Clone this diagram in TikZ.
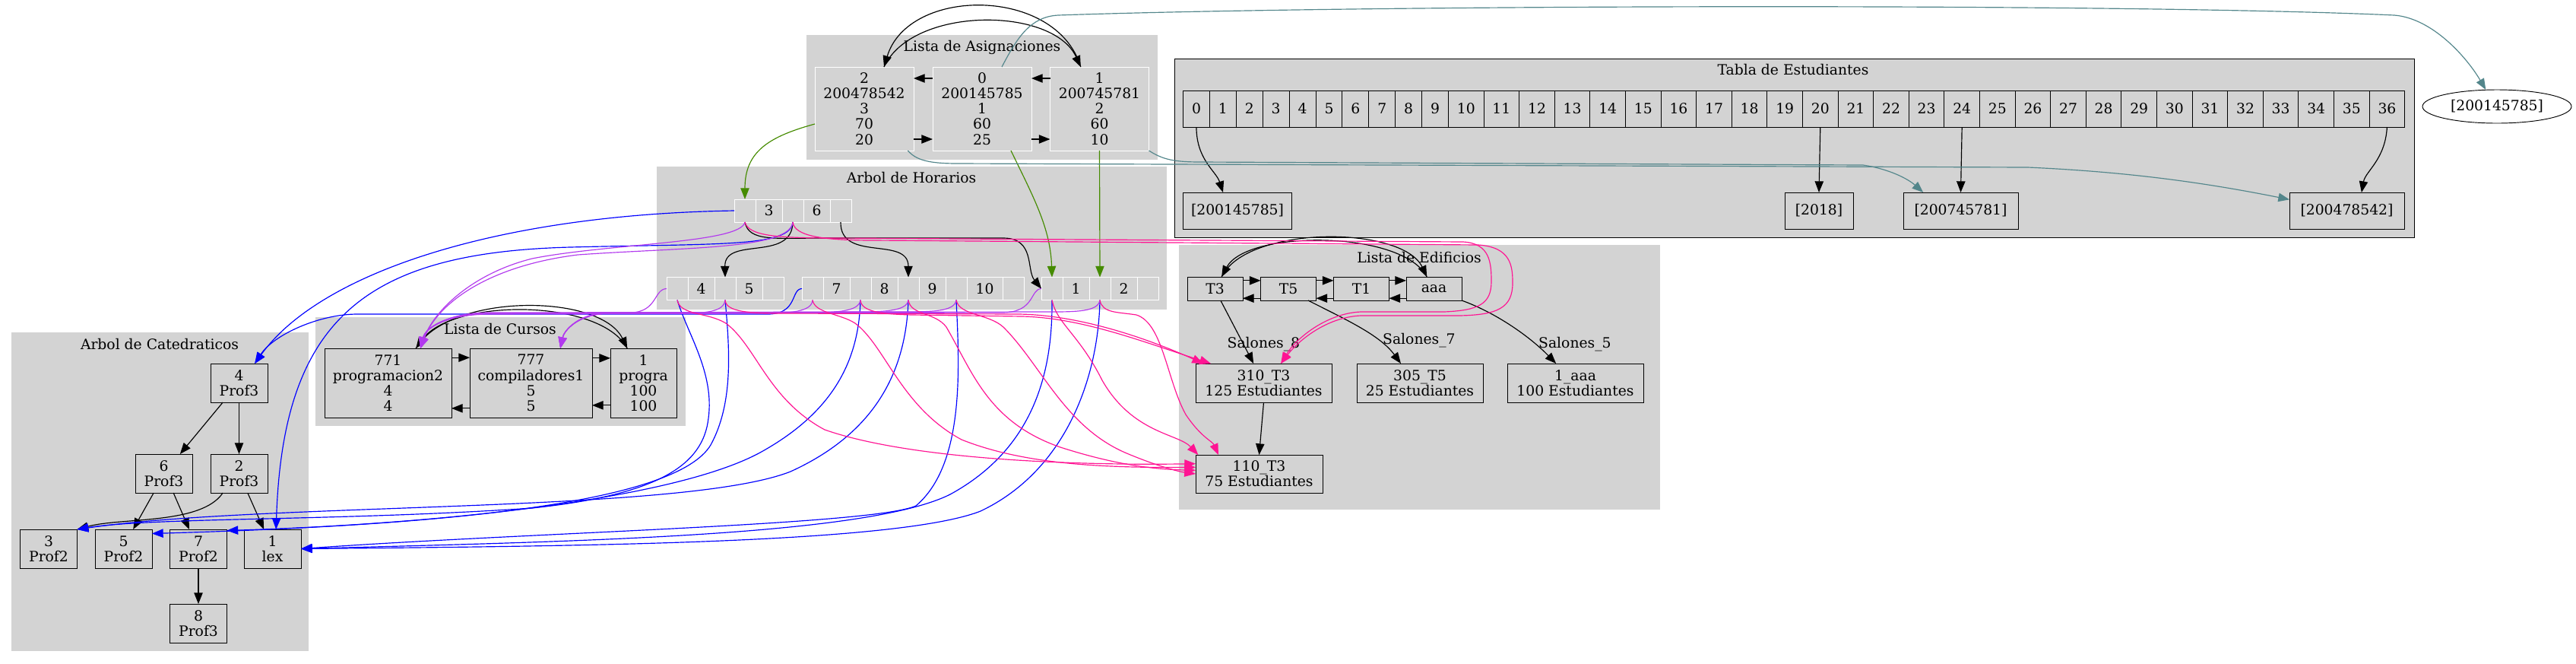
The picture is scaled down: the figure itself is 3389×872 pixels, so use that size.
\documentclass[tikz,border=0pt]{standalone}
\usepackage{fontspec}
\setmainfont{DejaVu Serif}
\usetikzlibrary{arrows.meta, calc, positioning, shapes.geometric}
\definecolor{grisCluster}{RGB}{211,211,211}
\definecolor{verdeAsig}{RGB}{69,139,0}
\definecolor{tealEst}{RGB}{83,134,139}
\definecolor{azulCat}{RGB}{0,0,255}
\definecolor{moradoCur}{RGB}{178,58,238}
\definecolor{rosaSal}{RGB}{255,20,147}

\begin{document}
\begin{tikzpicture}[x=0.015cm, y=-0.015cm,
    font=\fontsize{8}{8.6}\selectfont,
    every node/.style={inner sep=0pt, outer sep=0pt, align=center},
    flecha/.style={line width=0.5pt, -{Triangle[length=0.22cm, width=0.17cm]}},
    caja/.style={draw=black, fill=grisCluster, rectangle},
    cajaBlanca/.style={draw=white, fill=grisCluster, rectangle},
    asig/.style={cajaBlanca, minimum width=1.95cm, minimum height=1.65cm},
    hptr/.style={cajaBlanca, minimum width=0.42cm, minimum height=0.45cm},
    hkey/.style={cajaBlanca, minimum width=0.525cm, minimum height=0.45cm},
    eLista/.style={caja, minimum width=1.095cm, minimum height=0.465cm},
    cat/.style={caja, minimum width=1.125cm, minimum height=0.765cm}]

            % 1. CLUSTERS
            \fill[grisCluster] (1061,46) rectangle (1523,210);   % Asignaciones
            \fill[grisCluster] (864,219) rectangle (1535,407);   % Horarios
            \filldraw[fill=grisCluster, draw=black] (1545,77) rectangle (3176,312); % Estudiantes
            \fill[grisCluster] (1551,322) rectangle (2184,670);  % Edificios
            \fill[grisCluster] (415,417) rectangle (902,560);    % Cursos
            \fill[grisCluster] (15,437) rectangle (406,856);     % Catedraticos

            \node (tAsig) at (1292,62) {Lista de Asignaciones};
            \node (tHor) at (1199,234) {Arbol de Horarios};
            \node (tEst) at (2359,92) {Tabla de Estudiantes};
            \node (tEdi) at (1867,338) {Lista de Edificios};
            \node (tCur) at (658,432) {Lista de Cursos};
            \node (tCat) at (210,452) {Arbol de Catedraticos};

            % 2. LISTA DE ASIGNACIONES
            \node[asig] (asig2) at (1137,143) {2\\200478542\\3\\70\\20};
            \node[asig] (asig0) at (1292,143) {0\\200145785\\1\\60\\25};
            \node[asig] (asig1) at (1446.5,143) {1\\200745781\\2\\60\\10};

            \draw[flecha] ([yshift=0.6cm]asig0.west) -- ([yshift=0.6cm]asig2.east);
            \draw[flecha] ([yshift=-0.6cm]asig2.east) -- ([yshift=-0.6cm]asig0.west);
            \draw[flecha] ([yshift=0.6cm]asig1.west) -- ([yshift=0.6cm]asig0.east);
            \draw[flecha] ([yshift=-0.6cm]asig0.east) -- ([yshift=-0.6cm]asig1.west);
            \draw[flecha] ([xshift=-0.37cm]asig1.north) .. controls (1390,-18) and (1195,-18) .. ([xshift=0.39cm]asig2.north);
            \draw[flecha] ([xshift=0.39cm]asig2.north) .. controls (1200,8) and (1385,8) .. ([xshift=-0.37cm]asig1.north);

            % 3. ARBOL DE HORARIOS
            \node[hptr] (r0) at (980,277) {};
            \node[hkey, right=0pt of r0] (r1) {3};
            \node[hptr, right=0pt of r1] (r2) {};
            \node[hkey, right=0pt of r2] (r3) {6};
            \node[hptr, right=0pt of r3] (r4) {};

            \node[hptr] (h0) at (891,379.5) {};
            \node[hkey, right=0pt of h0] (h1) {4};
            \node[hptr, right=0pt of h1] (h2) {};
            \node[hkey, right=0pt of h2] (h3) {5};
            \node[hptr, right=0pt of h3] (h4) {};

            \node[hptr] (m0) at (1069,379.5) {};
            \node[hkey, right=0pt of m0] (m1) {7};
            \node[hptr, right=0pt of m1] (m2) {};
            \node[hkey, right=0pt of m2] (m3) {8};
            \node[hptr, right=0pt of m3] (m4) {};
            \node[hkey, right=0pt of m4] (m5) {9};
            \node[hptr, right=0pt of m5] (m6) {};
            \node[hkey, minimum width=0.705cm, right=0pt of m6] (m7) {10};
            \node[hptr, right=0pt of m7] (m8) {};

            \node[hptr] (k0) at (1384,379.5) {};
            \node[hkey, right=0pt of k0] (k1) {1};
            \node[hptr, right=0pt of k1] (k2) {};
            \node[hkey, right=0pt of k2] (k3) {2};
            \node[hptr, right=0pt of k3] (k4) {};

            \draw[flecha] (r2.south) .. controls (1042,345) and (953,310) .. (h2.north);
            \draw[flecha] (r4.south) .. controls (1105,345) and (1195,310) .. (m4.north);
            \draw[flecha] (r0.south) .. controls (985,318) and (1020,313) .. (1080,313) -- (1320,313) .. controls (1362,313) and (1350,355) .. (k0.west);

            % 4. TABLA DE ESTUDIANTES
            \foreach \i in {0,...,36}{
                \pgfmathsetmacro{\izq}{1556.5 + 34.9*min(\i,10) + 46.6*max(\i-10,0)}
                \pgfmathsetmacro{\anc}{(\i<10 ? 34.9 : 46.6)*0.015}
                \node[caja, minimum width={\anc*1cm}, minimum height=0.72cm, anchor=west] (est\i) at (\izq,143) {\i};
            }
            \node[caja, minimum width=2.14cm, minimum height=0.72cm] (nEst1) at (1628,277) {[200145785]};
            \node[caja, minimum width=1.35cm, minimum height=0.72cm] (nEst2) at (2393,277) {[2018]};
            \node[caja, minimum width=2.265cm, minimum height=0.72cm] (nEst3) at (2579.5,277) {[200745781]};
            \node[caja, minimum width=2.265cm, minimum height=0.72cm] (nEst4) at (3087.5,277) {[200478542]};
            \node[draw=black, ellipse, minimum width=2.94cm, minimum height=0.66cm] (nSuelto) at (3285,140) {[200145785]};

            \draw[flecha] (est0.south) .. controls (1574,210) and (1600,225) .. ([xshift=-0.285cm]nEst1.north);
            \draw[flecha] (est20.south) -- (nEst2.north);
            \draw[flecha] (est24.south) -- (nEst3.north);
            \draw[flecha] (est36.south) .. controls (3138,210) and (3112,225) .. ([xshift=0.29cm]nEst4.north);

            % 5. LISTA DE EDIFICIOS
            \node[eLista] (t3) at (1598.5,379.5) {T3};
            \node[eLista] (t5) at (1695,379.5) {T5};
            \node[eLista] (t1) at (1791,379.5) {T1};
            \node[eLista] (aaa) at (1886.5,379.5) {aaa};
            \foreach \a/\b in {t3/t5, t5/t1, t1/aaa}{
                \draw[flecha] ([yshift=0.16cm]\a.east) -- ([yshift=0.16cm]\b.west);
                \draw[flecha] ([yshift=-0.19cm]\b.west) -- ([yshift=-0.19cm]\a.east);
            }
            \draw[flecha] ([xshift=0.13cm]t3.north) .. controls (1640,296) and (1845,296) .. ([xshift=-0.14cm]aaa.north);
            \draw[flecha] ([xshift=-0.14cm]aaa.north) .. controls (1845,302) and (1640,302) .. ([xshift=0.13cm]t3.north);

            \node[caja, minimum width=2.685cm, minimum height=0.765cm] (sal310) at (1662.5,503.5) {310\_T3\\125 Estudiantes};
            \node[caja, minimum width=2.49cm, minimum height=0.765cm] (sal305) at (1868,503.5) {305\_T5\\25 Estudiantes};
            \node[caja, minimum width=2.685cm, minimum height=0.765cm] (sal1) at (2072.5,503.5) {1\_aaa\\100 Estudiantes};
            \node[caja, minimum width=2.505cm, minimum height=0.75cm] (sal110) at (1656.5,623) {110\_T3\\75 Estudiantes};

            \draw[flecha] ([xshift=0.11cm]t3.south) -- ([xshift=-0.2cm]sal310.north) node[pos=0.69, xshift=0.4cm] (lab8) {Salones\_8};
            \draw[flecha] ([xshift=0.39cm]t5.south) .. controls (1770,420) and (1815,440) .. ([xshift=-0.375cm]sal305.north) node[pos=0.7, xshift=0.8cm] (lab7) {Salones\_7};
            \draw[flecha] (aaa.south east) .. controls (1965,410) and (2010,440) .. ([xshift=-0.38cm]sal1.north) node[pos=0.7, xshift=0.9cm, yshift=-0.09cm] (lab5) {Salones\_5};
            \draw[flecha] (sal310.south) -- (sal110.north);

            % 6. LISTA DE CURSOS
            \node[caja, minimum width=2.505cm, minimum height=1.365cm] (cur771) at (510.5,503.5) {771\\programacion2\\4\\4};
            \node[caja, minimum width=2.415cm, minimum height=1.365cm] (cur777) at (698.5,503.5) {777\\compiladores1\\5\\5};
            \node[caja, minimum width=1.305cm, minimum height=1.365cm] (cur1) at (846.5,503.5) {1\\progra\\100\\100};

            \draw[flecha] ([yshift=0.5cm]cur771.east) -- ([yshift=0.5cm]cur777.west);
            \draw[flecha] ([yshift=-0.5cm]cur777.west) -- ([yshift=-0.5cm]cur771.east);
            \draw[flecha] ([yshift=0.49cm]cur777.east) -- ([yshift=0.49cm]cur1.west);
            \draw[flecha] ([yshift=-0.44cm]cur1.west) -- ([yshift=-0.44cm]cur777.east);
            \draw[flecha] ([xshift=0.55cm]cur771.north) .. controls (590,385) and (790,385) .. ([xshift=-0.32cm]cur1.north);
            \draw[flecha] ([xshift=-0.32cm]cur1.north) .. controls (790,392) and (595,392) .. ([xshift=0.55cm]cur771.north);

            % 7. ARBOL DE CATEDRATICOS
            \node[cat] (cat4) at (314.5,503.5) {4\\Prof3};
            \node[cat] (cat6) at (215.5,622.5) {6\\Prof3};
            \node[cat] (cat2) at (314.5,622.5) {2\\Prof3};
            \node[cat] (cat3) at (64,721.5) {3\\Prof2};
            \node[cat] (cat5) at (162.5,721.5) {5\\Prof2};
            \node[cat] (cat7) at (261,721.5) {7\\Prof2};
            \node[cat] (cat1) at (358.5,721.5) {1\\lex};
            \node[cat] (cat8) at (261,819.5) {8\\Prof3};

            \draw[flecha] ([xshift=-0.32cm]cat4.south) -- ([xshift=0.32cm]cat6.north);
            \draw[flecha] (cat4.south) -- (cat2.north);
            \draw[flecha] ([xshift=-0.2cm]cat6.south) -- ([xshift=0.19cm]cat5.north);
            \draw[flecha] ([xshift=0.19cm]cat6.south) -- ([xshift=-0.18cm]cat7.north);
            \draw[flecha] ([xshift=-0.32cm]cat2.south) .. controls (265,690) and (160,680) .. (cat3.north east);
            \draw[flecha] ([xshift=0.17cm]cat2.south) -- ([xshift=-0.17cm]cat1.north);
            \draw[flecha] (cat7.south) -- (cat8.north);

            % 8. ENLACES DE ASIGNACIONES
            \draw[flecha, verdeAsig] ([yshift=-0.3cm]asig2.west) .. controls (1010,180) and (980,200) .. (r0.north);
            \draw[flecha, verdeAsig] ([xshift=0.57cm]asig0.south) .. controls (1360,260) and (1382,300) .. (k0.north);
            \draw[flecha, verdeAsig] (asig1.south) -- (k2.north);
            \draw[flecha, tealEst] ([xshift=0.39cm]asig0.north) .. controls (1338,50) and (1355,22) .. (1392,20) .. controls (1800,6) and (2800,4) .. (3150,20) .. controls (3200,24) and (3245,75) .. ([xshift=-0.22cm]nSuelto.north);
            \draw[flecha, tealEst] ([xshift=0.86cm]asig2.south) .. controls (1205,210) and (1220,215) .. (1260,215) -- (2668,220) .. controls (2800,226) and (2900,240) .. ([yshift=0.22cm]nEst4.west);
            \draw[flecha, tealEst] (asig1.south east) .. controls (1530,210) and (1545,213) .. (1580,213) -- (2451,217) .. controls (2485,222) and (2510,235) .. ([xshift=-0.74cm]nEst3.north);

            % 9. HORARIOS -> CATEDRATICOS
            \draw[flecha, azulCat] (r0.west) .. controls (650,282) and (420,360) .. ([xshift=0.31cm]cat4.north);
            \draw[flecha, azulCat] (m0.west) .. controls (1040,380) and (1050,413) .. (1010,413) -- (470,413) .. controls (420,413) and (360,440) .. ([xshift=0.31cm]cat4.north);
            \draw[flecha, azulCat] (r2.south) .. controls (1040,325) and (950,320) .. (750,325) .. controls (480,332) and (372,420) .. ([xshift=0.07cm]cat1.north);
            \draw[flecha, azulCat] (h0.south) .. controls (905,440) and (940,490) .. (932,550) .. controls (925,610) and (870,650) .. (700,668) .. controls (450,685) and (200,680) .. (cat3.north east);
            \draw[flecha, azulCat] (h2.south) .. controls (960,460) and (965,530) .. (935,585) .. controls (890,660) and (600,690) .. ([yshift=0.3cm]cat5.east);
            \draw[flecha, azulCat] (m2.south) .. controls (1130,470) and (1100,540) .. (1000,595) .. controls (880,660) and (550,690) .. ([yshift=0.36cm]cat7.east);
            \draw[flecha, azulCat] (m4.south) .. controls (1192,490) and (1150,570) .. (1040,620) .. controls (900,675) and (350,660) .. (cat3.north east);
            \draw[flecha, azulCat] (m6.south) .. controls (1262,480) and (1270,610) .. (1205,665) .. controls (1150,690) and (700,700) .. (cat1.east);
            \draw[flecha, azulCat] (k0.south) .. controls (1385,490) and (1360,590) .. (1250,650) .. controls (1140,705) and (750,712) .. (cat1.east);
            \draw[flecha, azulCat] (k2.south) .. controls (1445,500) and (1400,620) .. (1290,672) .. controls (1180,715) and (750,718) .. (cat1.east);

            % 10. HORARIOS -> CURSOS
            \draw[flecha, moradoCur] (r0.south) .. controls (975,320) and (800,320) .. (700,340) .. controls (620,360) and (570,410) .. ([xshift=0.64cm]cur771.north);
            \draw[flecha, moradoCur] (r2.south) .. controls (1040,328) and (900,325) .. (760,335) .. controls (640,350) and (575,400) .. ([xshift=0.64cm]cur771.north);
            \draw[flecha, moradoCur] (h0.west) .. controls (860,380) and (865,410) .. (830,411) -- (640,412) .. controls (590,413) and (560,430) .. ([xshift=0.64cm]cur771.north);
            \draw[flecha, moradoCur] (h2.south) .. controls (952,410) and (930,412) .. (890,412) -- (800,412) .. controls (760,413) and (742,435) .. ([xshift=0.58cm]cur777.north);
            \draw[flecha, moradoCur] (m0.south) .. controls (1068,410) and (1040,412) .. (1000,412) -- (640,413) .. controls (590,414) and (560,430) .. ([xshift=0.64cm]cur771.north);
            \draw[flecha, moradoCur] (m2.south) .. controls (1130,410) and (1100,411) .. (1060,411) -- (800,412) .. controls (760,413) and (742,435) .. ([xshift=0.58cm]cur777.north);
            \draw[flecha, moradoCur] (m4.south) .. controls (1193,410) and (1160,410) .. (1120,410) -- (800,411) .. controls (760,412) and (742,435) .. ([xshift=0.58cm]cur777.north);
            \draw[flecha, moradoCur] (m6.south) .. controls (1256,410) and (1225,410) .. (1185,410) -- (640,412) .. controls (590,413) and (560,430) .. ([xshift=0.64cm]cur771.north);
            \draw[flecha, moradoCur] (k0.west) .. controls (1355,380) and (1362,410) .. (1320,411) -- (800,412) .. controls (760,413) and (742,435) .. ([xshift=0.58cm]cur777.north);
            \draw[flecha, moradoCur] (k2.south) .. controls (1445,410) and (1415,410) .. (1380,410) -- (640,411) .. controls (590,412) and (560,430) .. ([xshift=0.64cm]cur771.north);

            % 11. HORARIOS -> SALONES
            \draw[flecha, rosaSal] (r0.south) .. controls (985,310) and (1020,313) .. (1100,313) -- (1925,318) .. controls (1960,320) and (1962,345) .. (1962,370) .. controls (1962,400) and (1945,408) .. (1900,410) -- (1790,410) .. controls (1745,412) and (1705,445) .. ([xshift=0.34cm]sal310.north);
            \draw[flecha, rosaSal] (r2.south) .. controls (1045,310) and (1080,316) .. (1150,316) -- (1945,322) .. controls (1988,325) and (1990,350) .. (1990,372) .. controls (1990,405) and (1970,414) .. (1920,415) -- (1790,415) .. controls (1745,417) and (1708,448) .. ([xshift=0.34cm]sal310.north);
            \draw[flecha, rosaSal] (h2.south) .. controls (955,410) and (985,412) .. (1030,412) -- (1340,413) .. controls (1420,414) and (1510,445) .. ([xshift=0.15cm]sal310.north west);
            \draw[flecha, rosaSal] (m2.south) .. controls (1133,410) and (1160,413) .. (1200,414) -- (1345,416) .. controls (1425,418) and (1505,450) .. ([xshift=0.3cm]sal310.north west);
            \draw[flecha, rosaSal] (h0.south) .. controls (895,415) and (930,410) .. (955,425) .. controls (995,455) and (1010,525) .. (1085,565) .. controls (1200,605) and (1420,612) .. ([yshift=0.2cm]sal110.west);
            \draw[flecha, rosaSal] (m0.south) .. controls (1072,412) and (1105,412) .. (1125,425) .. controls (1165,455) and (1185,535) .. (1265,578) .. controls (1350,612) and (1460,615) .. ([yshift=0.13cm]sal110.west);
            \draw[flecha, rosaSal] (m4.south) .. controls (1198,415) and (1230,410) .. (1245,430) .. controls (1280,490) and (1300,555) .. (1395,588) .. controls (1470,612) and (1520,617) .. ([yshift=0.07cm]sal110.west);
            \draw[flecha, rosaSal] (m6.south) .. controls (1262,415) and (1300,412) .. (1320,430) .. controls (1370,480) and (1400,560) .. (1480,595) .. controls (1520,612) and (1550,620) .. (sal110.west);
            \draw[flecha, rosaSal] (k0.south) .. controls (1390,425) and (1420,440) .. (1450,500) .. controls (1490,570) and (1550,570) .. ([xshift=0.05cm]sal110.north west);
            \draw[flecha, rosaSal] (k2.south) .. controls (1450,412) and (1470,410) .. (1495,414) .. controls (1530,425) and (1535,500) .. (1560,545) .. controls (1580,575) and (1595,580) .. ([xshift=0.45cm]sal110.north west);

            \pgfresetboundingbox
            \path[use as bounding box] (0,0) rectangle (3389,872);
        \end{tikzpicture}
\end{document}
